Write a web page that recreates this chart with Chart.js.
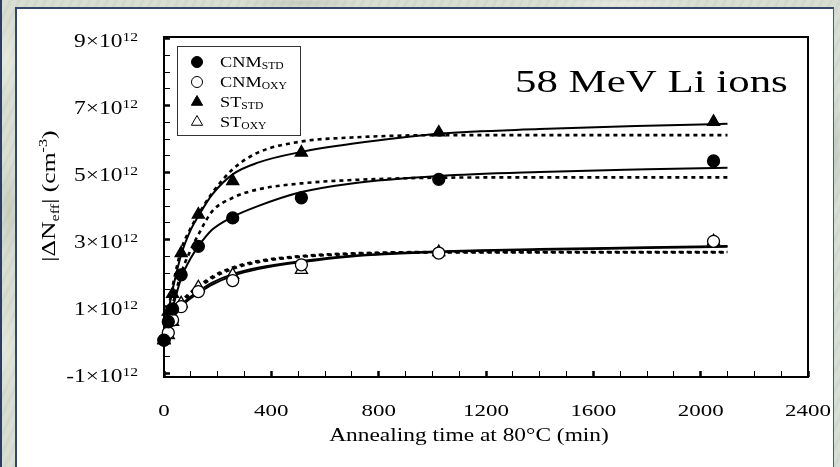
<!DOCTYPE html>
<html>
<head>
<meta charset="utf-8">
<script src="https://cdn.jsdelivr.net/npm/chart.js@4.4.1/dist/chart.umd.min.js"></script>
<style>
  html, body { margin: 0; padding: 0; }
  body {
    width: 840px; height: 467px; overflow: hidden; position: relative;
    background:
      radial-gradient(ellipse 14px 40px at 6px 60px, rgba(235,238,228,0.7), transparent),
      radial-gradient(ellipse 12px 50px at 9px 210px, rgba(180,190,172,0.5), transparent),
      radial-gradient(ellipse 14px 45px at 5px 350px, rgba(232,236,226,0.7), transparent),
      radial-gradient(ellipse 60px 5px at 300px 3px, rgba(182,190,176,0.6), transparent),
      radial-gradient(ellipse 80px 5px at 620px 4px, rgba(236,238,230,0.7), transparent),
      radial-gradient(ellipse 6px 60px at 836px 150px, rgba(184,192,178,0.6), transparent),
      repeating-linear-gradient(115deg, rgba(160,170,150,0.08) 0 3px, rgba(250,250,244,0.08) 3px 8px),
      #d6dbd0;
    box-shadow: inset 2px 0 0 #2e3d5c;
  }
  #panel {
    position: absolute; left: 15px; top: 7px; width: 816px; height: 470px;
    background: #fff;
    border-left: 2px solid #34466b; border-top: 2px solid #34466b; border-right: 1px solid #4a5a7a;
  }
  canvas { position: absolute; left: 0; top: 0; }
</style>
</head>
<body>
<div id="panel"></div>
<canvas id="annealChart" width="840" height="467"></canvas>
<script>
// annealing times (min) and measured |dNeff| in units of 1e12 cm^-3
const annealTimes = [0, 16, 32, 64, 128, 256, 512, 1024, 2048];
const cnmStd = [0, 0.55, 0.93, 1.95, 2.8, 3.65, 4.25, 4.8, 5.35];
const cnmOxy = [0, 0.22, 0.6, 1.0, 1.45, 1.78, 2.25, 2.6, 2.95];
const stStd = [0, 0.85, 1.38, 2.6, 3.75, 4.75, 5.6, 6.2, 6.52];
const stOxy = [0, 0.15, 0.55, 1.1, 1.58, 1.95, 2.1, 2.63, 2.95];

// fitted curves: solid = full fit, dashed = single exponential
const fitTimes = [0, 16, 32, 64, 100, 128, 180, 256, 350, 512, 700, 1024, 1400, 1800, 2100];
const stStdFit = [0, 0.85, 1.5, 2.55, 3.3, 3.7, 4.35, 4.95, 5.3, 5.62, 5.86, 6.16, 6.3, 6.4, 6.46];
const stStdExp = [0, 0.9, 1.6, 2.7, 3.35, 3.75, 4.4, 5.1, 5.6, 5.93, 6.05, 6.12, 6.12, 6.12, 6.12];
const cnmStdFit = [0, 0.5, 0.95, 1.85, 2.45, 2.8, 3.3, 3.68, 4.0, 4.42, 4.68, 4.9, 5.02, 5.1, 5.15];
const cnmStdExp = [0, 0.55, 1.05, 2.0, 2.7, 3.15, 3.85, 4.25, 4.5, 4.68, 4.78, 4.85, 4.86, 4.86, 4.86];
const cnmOxyFit = [0, 0.32, 0.62, 1.0, 1.25, 1.4, 1.66, 1.92, 2.12, 2.33, 2.5, 2.63, 2.7, 2.75, 2.79];
const stOxyFit = [0, 0.36, 0.66, 1.05, 1.3, 1.46, 1.72, 1.97, 2.16, 2.36, 2.52, 2.65, 2.72, 2.77, 2.81];
const cnmOxyExp = [0, 0.38, 0.7, 1.1, 1.38, 1.55, 1.85, 2.13, 2.33, 2.49, 2.57, 2.62, 2.62, 2.62, 2.62];
const stOxyExp = [0, 0.4, 0.73, 1.15, 1.43, 1.6, 1.9, 2.17, 2.36, 2.51, 2.59, 2.63, 2.63, 2.63, 2.63];

const xLabelTicks = [0, 400, 800, 1200, 1600, 2000, 2400];
const yLabelTicks = [-1, 1, 3, 5, 7, 9];

const legendItems = [
    { name: 'CNM', sub: 'STD', style: 'circle', fill: '#000' },
    { name: 'CNM', sub: 'OXY', style: 'circle', fill: '#fff' },
    { name: 'ST', sub: 'STD', style: 'triangle', fill: '#000' },
    { name: 'ST', sub: 'OXY', style: 'triangle', fill: '#fff' }
];

const FONT = '"Liberation Serif", "Times New Roman", serif';

function pairs(xs, ys) {
    return xs.map((x, i) => ({ x: x, y: ys[i] }));
}

function fitLine(values, dashed) {
    return {
        type: 'line',
        data: pairs(fitTimes, values),
        borderColor: '#000',
        borderWidth: dashed ? 2.6 : 2,
        borderDash: dashed ? [4, 4] : [],
        pointRadius: 0,
        fill: false,
        cubicInterpolationMode: 'monotone',
        order: 2
    };
}

function markers(values, style, fill) {
    return {
        type: 'scatter',
        data: pairs(annealTimes, values),
        pointStyle: style,
        pointRadius: style === 'triangle' ? 7 : 6,
        pointBackgroundColor: fill,
        pointBorderColor: '#000',
        pointBorderWidth: 1.3,
        showLine: false,
        order: 0
    };
}

// draw a run of text pieces (for super/subscripts), stretched along the line
function drawRuns(ctx, runs, x, y, sx, align) {
    let total = 0;
    runs.forEach(r => {
        ctx.font = r.size + 'px ' + FONT;
        r.w = ctx.measureText(r.text).width;
        total += r.w;
    });
    let cx = align === 'right' ? -total : align === 'center' ? -total / 2 : 0;
    ctx.save();
    ctx.translate(x, y);
    ctx.scale(sx, 1);
    ctx.fillStyle = '#000';
    ctx.textBaseline = 'alphabetic';
    ctx.textAlign = 'left';
    runs.forEach(r => {
        ctx.font = r.size + 'px ' + FONT;
        ctx.fillText(r.text, cx, r.dy || 0);
        cx += r.w;
    });
    ctx.restore();
}

const decor = {
    id: 'decor',
    beforeDatasetsDraw(chart) {
        const { ctx, chartArea: a } = chart;
        ctx.save();
        ctx.strokeStyle = '#000';
        ctx.lineWidth = 2;
        ctx.strokeRect(a.left, a.top, a.right - a.left, a.bottom - a.top);
        ctx.restore();
    },
    afterDraw(chart) {
        const ctx = chart.ctx;
        const xs = chart.scales.x, ys = chart.scales.y;

        yLabelTicks.forEach(v => {
            const py = ys.getPixelForValue(v);
            drawRuns(ctx, [
                { text: v + '×10', size: 18 },
                { text: '12', size: 12, dy: -6 }
            ], 138, py + 8.5, 1.3, 'right');
        });

        xLabelTicks.forEach(v => {
            drawRuns(ctx, [{ text: String(v), size: 17 }], xs.getPixelForValue(v), 416, 1.35, 'center');
        });

        drawRuns(ctx, [{ text: 'Annealing time at 80°C (min)', size: 18 }], 469, 441, 1.3, 'center');

        // rotated y title
        ctx.save();
        ctx.translate(55, 196);
        ctx.rotate(-Math.PI / 2);
        drawRuns(ctx, [
            { text: '|ΔN', size: 19 },
            { text: 'eff', size: 12, dy: 4 },
            { text: '| (cm', size: 19 },
            { text: '-3', size: 12, dy: -8 },
            { text: ')', size: 19 }
        ], 0, 0, 1.35, 'center');
        ctx.restore();

        // legend box
        ctx.save();
        ctx.strokeStyle = '#333';
        ctx.lineWidth = 1;
        ctx.fillStyle = '#fff';
        ctx.fillRect(177, 46, 123, 89);
        ctx.strokeRect(177.5, 46.5, 123, 89);
        const rows = [62, 82, 102, 122];
        legendItems.forEach((item, i) => {
            ctx.fillStyle = item.fill;
            ctx.strokeStyle = '#000';
            Chart.helpers.drawPoint(ctx, {
                pointStyle: item.style,
                radius: item.style === 'triangle' ? 6.5 : 5.5,
                borderWidth: 1.2,
                rotation: 0
            }, 197, rows[i]);
            drawRuns(ctx, [
                { text: item.name, size: 15 },
                { text: item.sub, size: 9.5, dy: 2 }
            ], 220, rows[i] + 5, 1.22, 'left');
        });
        ctx.restore();

        drawRuns(ctx, [{ text: '58 MeV Li ions', size: 32 }], 515, 92, 1.34, 'left');
    }
};

const chart = new Chart(document.getElementById('annealChart').getContext('2d'), {
    type: 'scatter',
    data: {
        datasets: [
            markers(cnmStd, 'circle', '#000'),
            markers(cnmOxy, 'circle', '#fff'),
            markers(stStd, 'triangle', '#000'),
            markers(stOxy, 'triangle', '#fff'),
            fitLine(stStdFit, false),
            fitLine(cnmStdFit, false),
            fitLine(cnmOxyFit, false),
            fitLine(stOxyFit, false),
            fitLine(stStdExp, true),
            fitLine(cnmStdExp, true),
            fitLine(cnmOxyExp, true),
            fitLine(stOxyExp, true)
        ]
    },
    options: {
        responsive: false,
        animation: false,
        devicePixelRatio: 1,
        clip: false,
        layout: { padding: { left: 164, right: 32, top: 37, bottom: 90 } },
        plugins: { legend: { display: false }, tooltip: { enabled: false } },
        scales: {
            x: {
                type: 'linear',
                min: 0,
                max: 2400,
                afterFit: s => { s.height = 0; },
                ticks: { display: false, stepSize: 100, includeBounds: false },
                border: { display: false },
                grid: {
                    drawOnChartArea: false,
                    drawTicks: true,
                    tickLength: -6,
                    tickColor: '#000',
                    tickWidth: c => (c.tick && c.tick.value % 400 === 0) ? 2.5 : 1
                }
            },
            y: {
                type: 'linear',
                min: -1.1,
                max: 9.05,
                afterFit: s => { s.width = 0; },
                ticks: { display: false, stepSize: 0.5, includeBounds: false },
                border: { display: false },
                grid: {
                    drawOnChartArea: false,
                    drawTicks: true,
                    tickLength: -6,
                    tickColor: '#000',
                    tickWidth: c => (c.tick && Math.abs(c.tick.value % 2) === 1) ? 2.5 : 1
                }
            }
        }
    },
    plugins: [decor]
});
</script>
</body>
</html>
